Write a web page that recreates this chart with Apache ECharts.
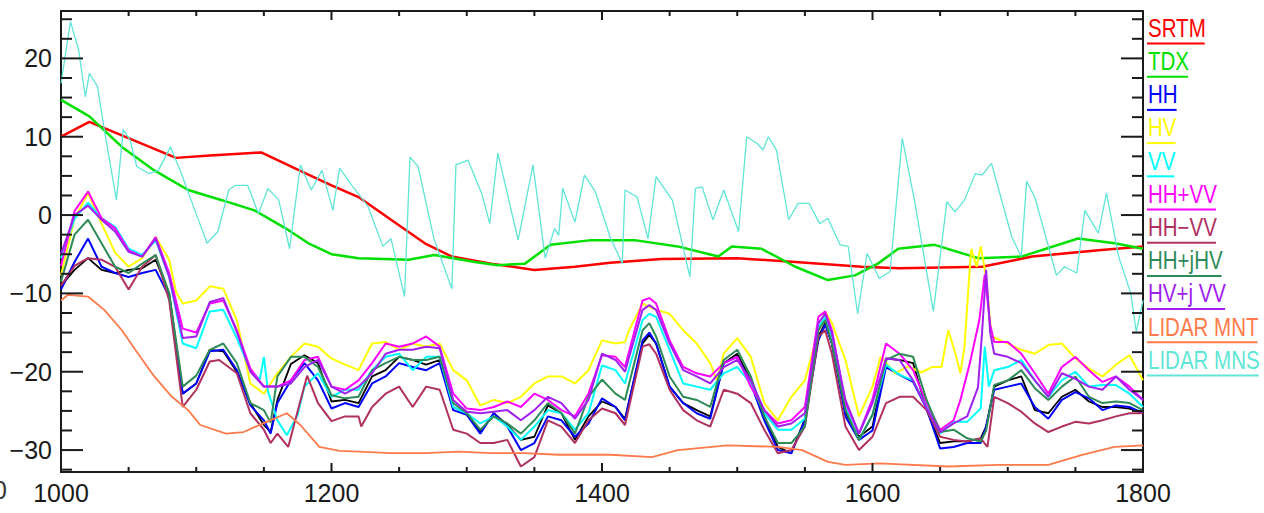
<!DOCTYPE html>
<html>
<head>
<meta charset="utf-8">
<script src="https://cdn.jsdelivr.net/npm/echarts@6/dist/echarts.min.js"></script>
<style>
html,body{margin:0;padding:0;background:#fff;}
#chart{width:1264px;height:513px;}
</style>
</head>
<body>
<div id="chart"></div>
<script>
// ---------- axis / tick values ----------
const xRange = [1000, 1800];
const xTickInterval = 200;
const xMajorTicks = [1000, 1200, 1400, 1600, 1800];
const xMinorTicks = [1050, 1100, 1150, 1250, 1300, 1350, 1450, 1500, 1550, 1650, 1700, 1750];
const yRange = [-32.8, 26.05];
const yMajorTicks = [-30, -20, -10, 0, 10, 20];
const yMinorTicks = [-32.5, -27.5, -25, -22.5, -17.5, -15, -12.5, -7.5, -5, -2.5, 2.5, 5, 7.5, 12.5, 15, 17.5, 22.5, 25];

// ---------- series names & colours ----------
const seriesNames = ['SRTM', 'TDX', 'HH', 'HV', 'VV', 'HH+VV', 'HH\u2212VV', 'HH+jHV', 'HV+j VV', 'LIDAR MNT', 'LIDAR MNS'];
const seriesColors = ['#ff0000', '#00e000', '#0000ff', '#ffff00', '#00ffff', '#ff00ff', '#b03060', '#2e8b57', '#a020f0', '#ff7a4a', '#5fe6d6'];

// ---------- data: [distance, value] ----------
const srtm = [[1000,10],[1021,11.9],[1085,7.3],[1110,7.6],[1148,8.0],[1175,5.8],[1200,3.8],[1220,2.3],[1244,-0.6],[1269,-3.6],[1289,-5.3],[1318,-6.2],[1350,-7.0],[1380,-6.6],[1406,-6.1],[1444,-5.6],[1500,-5.5],[1543,-6.0],[1592,-6.6],[1620,-6.8],[1681,-6.6],[1718,-5.3],[1767,-4.5],[1800,-4.0]];

const tdx = [[1000,14.7],[1021,12.6],[1045,8.7],[1069,5.7],[1094,3.2],[1119,1.9],[1143,0.6],[1168,-1.9],[1183,-3.6],[1200,-5.0],[1220,-5.5],[1257,-5.7],[1276,-5.1],[1306,-6.0],[1323,-6.4],[1343,-6.2],[1362,-3.8],[1392,-3.2],[1424,-3.2],[1456,-4.0],[1486,-5.3],[1496,-4.0],[1518,-4.3],[1543,-6.6],[1567,-8.3],[1587,-7.7],[1604,-6.2],[1619,-4.3],[1646,-3.8],[1678,-5.5],[1710,-5.3],[1752,-3.0],[1779,-3.6],[1800,-4.3]];

const hh = [[1000,-9.5],[1010,-6.0],[1020,-3.0],[1030,-6.6],[1040,-7.4],[1050,-7.9],[1060,-7.4],[1070,-7.0],[1080,-10.4],[1090,-22.8],[1100,-21.5],[1110,-17.4],[1120,-17.2],[1130,-19.8],[1140,-24.3],[1150,-26.2],[1155,-27.9],[1160,-24.0],[1170,-21.1],[1180,-18.9],[1190,-21.1],[1200,-24.7],[1210,-24.0],[1220,-24.5],[1230,-21.5],[1240,-20.6],[1250,-18.9],[1260,-19.4],[1270,-19.8],[1280,-18.9],[1290,-24.9],[1300,-25.5],[1310,-27.9],[1320,-25.3],[1330,-27.0],[1340,-30.0],[1350,-29.1],[1360,-25.7],[1370,-26.2],[1380,-28.3],[1390,-26.6],[1400,-23.4],[1410,-24.5],[1417,-26.2],[1430,-16.0],[1435,-15.0],[1440,-16.4],[1450,-21.9],[1460,-24.0],[1470,-25.3],[1480,-26.0],[1490,-18.9],[1500,-18.1],[1510,-21.5],[1520,-26.2],[1530,-30.0],[1540,-30.4],[1550,-26.2],[1560,-16.0],[1565,-14.0],[1570,-16.4],[1580,-25.7],[1590,-28.7],[1600,-27.5],[1610,-19.4],[1620,-20.4],[1630,-21.3],[1640,-24.7],[1650,-29.8],[1660,-29.6],[1670,-29.1],[1680,-29.1],[1684,-27.0],[1690,-22.3],[1700,-21.9],[1710,-21.5],[1720,-24.5],[1730,-26.0],[1740,-23.6],[1750,-22.6],[1760,-23.4],[1770,-24.9],[1780,-24.3],[1790,-24.5],[1800,-25.3]];

const hv = [[1000,-7.7],[1010,-0.5],[1020,2.8],[1030,-1.1],[1040,-4.8],[1050,-6.6],[1060,-5.5],[1070,-2.8],[1080,-5.7],[1085,-9.8],[1090,-11.3],[1100,-10.9],[1110,-9.1],[1120,-9.4],[1130,-13.4],[1140,-21.5],[1150,-22.8],[1160,-20.2],[1170,-18.1],[1180,-16.4],[1190,-16.8],[1200,-18.3],[1210,-19.1],[1220,-19.8],[1230,-16.4],[1240,-16.2],[1250,-17.2],[1260,-16.4],[1270,-16.8],[1280,-16.4],[1290,-19.8],[1300,-21.1],[1310,-24.3],[1320,-23.6],[1330,-24.0],[1340,-23.2],[1350,-21.5],[1360,-20.6],[1370,-20.6],[1380,-21.5],[1390,-19.8],[1400,-16.0],[1410,-16.4],[1417,-16.2],[1420,-14.7],[1430,-11.3],[1440,-12.1],[1450,-12.6],[1460,-14.7],[1470,-16.4],[1480,-18.9],[1485,-21.1],[1490,-17.7],[1500,-15.7],[1510,-18.1],[1520,-24.0],[1530,-26.2],[1540,-23.2],[1550,-21.1],[1560,-14.7],[1565,-12.3],[1570,-13.8],[1580,-18.5],[1590,-25.7],[1600,-21.9],[1606,-18.1],[1617,-20.2],[1626,-19.3],[1636,-20.1],[1644,-19.4],[1651,-19.4],[1656,-14.7],[1661,-17.5],[1665,-20.2],[1668,-16.8],[1671,-9.1],[1673,-4.3],[1677,-6.6],[1680,-4.0],[1684,-7.9],[1688,-15.5],[1700,-16.4],[1710,-17.2],[1720,-17.7],[1730,-16.6],[1740,-16.4],[1750,-18.3],[1760,-19.6],[1770,-20.6],[1780,-19.1],[1790,-17.9],[1800,-21.1]];

const vv = [[1000,-5.5],[1010,-0.5],[1020,1.6],[1030,-0.4],[1040,-1.5],[1050,-4.3],[1060,-5.1],[1070,-3.2],[1080,-7.9],[1090,-16.4],[1100,-17.0],[1110,-12.3],[1120,-12.1],[1130,-15.7],[1140,-19.8],[1147,-21.0],[1150,-18.1],[1153,-22.5],[1160,-26.2],[1167,-28.1],[1175,-25.5],[1180,-21.9],[1190,-20.2],[1200,-23.2],[1210,-22.3],[1220,-22.3],[1230,-19.8],[1240,-18.1],[1250,-17.7],[1260,-19.8],[1270,-18.1],[1280,-18.1],[1290,-24.5],[1300,-25.3],[1310,-26.6],[1320,-25.7],[1330,-27.0],[1340,-28.7],[1350,-27.0],[1360,-24.9],[1370,-25.3],[1380,-27.4],[1390,-25.3],[1400,-19.2],[1410,-19.8],[1417,-21.5],[1430,-13.4],[1435,-12.6],[1440,-13.0],[1450,-17.2],[1460,-21.5],[1470,-21.9],[1480,-22.3],[1490,-20.2],[1500,-19.4],[1510,-21.5],[1520,-25.3],[1530,-27.4],[1540,-27.4],[1550,-26.0],[1560,-14.3],[1565,-13.0],[1570,-15.5],[1580,-24.5],[1590,-28.7],[1600,-25.5],[1610,-19.1],[1620,-20.4],[1630,-21.1],[1640,-24.5],[1650,-27.9],[1660,-26.4],[1670,-26.4],[1680,-24.7],[1683,-16.8],[1686,-21.9],[1690,-19.8],[1700,-19.4],[1710,-18.5],[1720,-21.1],[1730,-23.2],[1740,-21.1],[1750,-20.0],[1760,-21.9],[1770,-21.7],[1780,-21.7],[1790,-22.8],[1800,-24.5]];

const hhPlusVv = [[1000,-6.5],[1010,0.5],[1020,3.0],[1030,-0.4],[1040,-1.7],[1050,-4.5],[1060,-5.3],[1070,-2.8],[1080,-7.4],[1090,-14.5],[1100,-15.0],[1110,-11.3],[1120,-10.9],[1130,-14.7],[1140,-19.6],[1150,-21.9],[1160,-21.9],[1170,-21.1],[1180,-18.5],[1190,-18.1],[1200,-21.9],[1210,-22.3],[1220,-21.1],[1230,-18.9],[1240,-16.4],[1250,-16.8],[1260,-16.4],[1270,-15.5],[1280,-16.8],[1290,-22.8],[1300,-24.7],[1310,-24.9],[1320,-24.5],[1330,-23.8],[1340,-24.5],[1350,-22.8],[1360,-23.6],[1370,-24.9],[1380,-25.7],[1390,-22.8],[1400,-17.9],[1410,-18.1],[1417,-19.4],[1430,-10.9],[1435,-10.6],[1440,-11.3],[1450,-16.0],[1460,-19.4],[1470,-20.2],[1480,-20.6],[1490,-18.9],[1500,-18.1],[1510,-21.9],[1520,-24.9],[1530,-26.6],[1540,-26.2],[1550,-24.5],[1560,-13.0],[1565,-12.3],[1570,-14.7],[1580,-24.0],[1590,-27.9],[1600,-23.5],[1610,-16.4],[1620,-17.7],[1630,-19.8],[1640,-24.0],[1650,-27.4],[1660,-26.2],[1665,-23.6],[1672,-18.9],[1679,-13.4],[1683,-7.6],[1687,-14.0],[1690,-16.2],[1700,-16.2],[1710,-17.7],[1720,-20.2],[1730,-22.8],[1740,-19.4],[1750,-18.1],[1760,-19.8],[1770,-21.3],[1780,-20.6],[1790,-21.9],[1800,-23.6]];

const hhMinusVv = [[1000,-9.0],[1010,-6.5],[1020,-5.5],[1030,-5.7],[1040,-6.6],[1050,-9.5],[1060,-6.6],[1070,-5.1],[1080,-10.9],[1090,-24.5],[1100,-22.3],[1110,-18.7],[1117,-18.5],[1130,-20.2],[1140,-25.3],[1150,-27.4],[1155,-29.1],[1160,-27.9],[1168,-29.6],[1175,-25.0],[1182,-20.5],[1190,-24.0],[1200,-26.3],[1210,-25.7],[1220,-25.7],[1222,-27.0],[1230,-24.5],[1240,-22.8],[1250,-21.9],[1260,-24.5],[1270,-21.9],[1280,-22.3],[1290,-27.4],[1300,-27.9],[1310,-29.1],[1320,-29.1],[1330,-28.7],[1340,-32.1],[1350,-30.9],[1360,-26.2],[1370,-27.0],[1380,-29.1],[1390,-26.2],[1400,-24.7],[1410,-25.3],[1417,-26.8],[1430,-16.8],[1435,-16.5],[1440,-17.7],[1450,-22.3],[1460,-24.9],[1470,-26.2],[1480,-27.0],[1490,-22.3],[1500,-22.8],[1510,-24.0],[1520,-27.4],[1530,-30.4],[1540,-30.0],[1550,-27.0],[1560,-15.5],[1565,-14.7],[1570,-17.7],[1580,-27.0],[1590,-30.0],[1600,-28.3],[1610,-24.0],[1620,-23.2],[1630,-23.2],[1640,-24.9],[1650,-28.3],[1660,-28.7],[1670,-28.9],[1680,-28.5],[1685,-29.6],[1690,-23.2],[1700,-24.0],[1710,-25.1],[1720,-26.6],[1730,-27.7],[1740,-27.0],[1750,-26.4],[1760,-26.6],[1770,-26.2],[1780,-25.7],[1790,-25.3],[1800,-25.3]];

const hhPlusJHv = [[1000,-8.5],[1010,-2.5],[1020,-0.6],[1030,-3.6],[1040,-6.6],[1050,-7.4],[1060,-6.2],[1070,-5.1],[1080,-10.0],[1090,-21.9],[1100,-20.5],[1110,-17.2],[1120,-16.4],[1130,-18.9],[1140,-24.0],[1150,-24.9],[1155,-26.5],[1160,-20.6],[1170,-18.1],[1180,-18.1],[1190,-19.4],[1200,-23.0],[1210,-23.4],[1220,-23.2],[1230,-19.8],[1240,-18.9],[1250,-18.1],[1260,-18.5],[1270,-18.5],[1280,-18.1],[1290,-24.0],[1300,-25.3],[1310,-27.4],[1320,-25.7],[1330,-26.6],[1340,-27.9],[1350,-26.2],[1360,-24.0],[1370,-25.3],[1380,-27.9],[1390,-23.2],[1400,-21.0],[1410,-22.8],[1417,-23.6],[1430,-14.7],[1435,-13.8],[1440,-15.5],[1450,-20.6],[1460,-23.2],[1470,-23.6],[1480,-24.5],[1490,-18.5],[1500,-17.2],[1510,-20.6],[1520,-25.7],[1530,-29.1],[1540,-29.1],[1550,-27.0],[1560,-14.7],[1565,-13.4],[1570,-16.4],[1580,-24.9],[1590,-28.7],[1600,-25.5],[1610,-18.5],[1620,-17.7],[1630,-18.1],[1640,-23.6],[1650,-27.7],[1660,-27.4],[1670,-28.5],[1680,-28.9],[1684,-27.5],[1690,-21.7],[1700,-21.1],[1710,-19.8],[1720,-22.1],[1730,-23.6],[1740,-21.9],[1750,-20.6],[1760,-23.2],[1770,-24.0],[1780,-23.8],[1790,-24.0],[1800,-24.9]];

const hvPlusJVv = [[1000,-5.0],[1010,0.0],[1020,1.2],[1030,-0.6],[1040,-2.1],[1050,-4.7],[1060,-5.3],[1070,-3.0],[1080,-7.9],[1090,-15.7],[1100,-15.5],[1110,-11.1],[1120,-10.6],[1130,-14.9],[1140,-20.0],[1150,-21.9],[1160,-21.9],[1170,-21.5],[1180,-19.4],[1190,-18.5],[1200,-21.9],[1210,-22.8],[1220,-21.9],[1230,-20.2],[1240,-17.7],[1250,-17.2],[1260,-17.2],[1270,-16.8],[1280,-17.0],[1290,-23.6],[1300,-25.1],[1310,-25.3],[1320,-25.1],[1330,-24.9],[1340,-26.2],[1350,-24.9],[1360,-23.2],[1370,-24.0],[1380,-26.0],[1390,-23.6],[1400,-17.7],[1410,-18.5],[1417,-20.0],[1430,-12.1],[1435,-11.5],[1440,-12.1],[1450,-16.4],[1460,-19.8],[1470,-20.6],[1480,-21.5],[1490,-19.4],[1500,-18.5],[1510,-21.1],[1520,-24.9],[1530,-27.0],[1540,-26.6],[1550,-25.3],[1560,-13.8],[1565,-12.6],[1570,-15.1],[1580,-23.6],[1590,-27.9],[1600,-24.0],[1610,-18.3],[1620,-18.5],[1630,-21.1],[1640,-24.7],[1650,-27.7],[1660,-26.6],[1670,-25.7],[1678,-22.0],[1681,-15.0],[1684,-7.0],[1687,-15.0],[1690,-17.7],[1700,-18.1],[1710,-18.9],[1720,-21.1],[1730,-23.2],[1740,-20.2],[1750,-20.9],[1760,-21.9],[1770,-22.3],[1780,-20.6],[1790,-22.3],[1800,-23.6]];

const lidarMnt = [[1000,-10.9],[1005,-10.2],[1020,-10.4],[1032,-12.1],[1045,-14.7],[1057,-17.7],[1069,-20.6],[1082,-23.2],[1094,-24.9],[1103,-26.8],[1122,-27.9],[1135,-27.7],[1152,-26.4],[1167,-25.3],[1177,-26.8],[1191,-29.6],[1206,-30.1],[1220,-30.2],[1244,-30.4],[1269,-30.4],[1294,-30.2],[1318,-30.4],[1343,-30.4],[1368,-30.6],[1406,-30.6],[1437,-30.9],[1456,-30.0],[1493,-29.4],[1530,-29.6],[1548,-30.0],[1567,-31.5],[1580,-31.9],[1605,-31.7],[1656,-32.1],[1693,-31.9],[1730,-31.9],[1755,-30.6],[1779,-29.6],[1800,-29.4]];

const lidarMns = [[1000,16.8],[1007,24.7],[1013,21.1],[1018,15.1],[1021,18.1],[1027,16.4],[1032,10.9],[1041,1.9],[1046,10.9],[1051,9.6],[1056,6.2],[1065,5.3],[1072,5.7],[1081,8.7],[1089,5.3],[1099,0.6],[1108,-3.6],[1116,-2.1],[1124,3.2],[1129,3.8],[1138,3.8],[1146,0.2],[1153,3.4],[1161,1.9],[1169,-4.3],[1177,6.4],[1185,3.2],[1193,5.7],[1201,0.6],[1206,6.0],[1215,3.8],[1227,1.1],[1238,-4.0],[1244,-3.0],[1254,-10.4],[1258,7.4],[1264,6.2],[1276,-3.2],[1289,-9.4],[1292,6.4],[1301,7.0],[1311,2.8],[1317,-1.1],[1323,7.9],[1338,-3.2],[1349,6.4],[1358,-5.5],[1365,-1.7],[1368,-2.6],[1371,3.4],[1380,-0.9],[1387,5.1],[1395,3.0],[1406,-2.8],[1415,-6.2],[1417,3.2],[1426,2.3],[1434,-3.0],[1440,4.9],[1452,1.9],[1465,-7.9],[1469,3.4],[1474,3.6],[1482,-0.6],[1490,3.2],[1501,-2.1],[1507,10.0],[1515,9.1],[1519,8.3],[1523,10.0],[1529,8.3],[1538,-0.6],[1545,1.5],[1553,1.5],[1561,-1.1],[1567,-0.4],[1576,-3.8],[1582,-4.0],[1589,-12.6],[1596,-4.9],[1605,-8.1],[1613,-7.2],[1622,9.8],[1631,1.9],[1645,-12.3],[1655,1.7],[1661,0.4],[1668,1.9],[1676,5.3],[1681,5.1],[1688,6.6],[1703,-2.8],[1710,-5.3],[1714,4.3],[1720,2.3],[1736,-7.7],[1742,-6.6],[1751,-7.4],[1757,0.6],[1767,-2.3],[1773,2.8],[1782,-5.3],[1791,-10.0],[1795,-14.9],[1800,-10.9]];

// unlabelled black trace (not in the legend)
const blackTrace = [[1000,-9.0],[1010,-7.0],[1020,-5.5],[1030,-7.0],[1040,-7.4],[1050,-7.0],[1060,-6.8],[1070,-5.7],[1080,-10.0],[1090,-22.8],[1100,-21.5],[1110,-17.2],[1120,-17.4],[1130,-20.0],[1140,-24.0],[1150,-26.8],[1155,-27.7],[1160,-23.6],[1170,-19.0],[1180,-17.9],[1190,-18.9],[1200,-23.8],[1210,-23.6],[1220,-24.0],[1230,-20.6],[1240,-19.8],[1250,-18.1],[1260,-18.5],[1270,-19.1],[1280,-18.5],[1290,-24.5],[1300,-25.3],[1310,-27.7],[1320,-25.3],[1330,-26.8],[1340,-28.7],[1350,-28.3],[1360,-24.3],[1370,-25.3],[1380,-28.7],[1390,-25.7],[1400,-23.8],[1410,-24.5],[1417,-26.0],[1430,-16.4],[1435,-15.3],[1440,-16.4],[1450,-21.9],[1460,-24.0],[1470,-24.9],[1480,-25.7],[1490,-18.9],[1500,-17.7],[1510,-21.1],[1520,-25.7],[1530,-29.6],[1540,-30.4],[1550,-26.0],[1560,-15.5],[1565,-13.8],[1570,-16.4],[1580,-25.3],[1590,-28.3],[1600,-27.0],[1610,-18.3],[1620,-18.5],[1630,-18.9],[1640,-24.9],[1650,-29.1],[1660,-28.9],[1670,-28.9],[1680,-28.5],[1684,-27.0],[1690,-21.9],[1700,-21.1],[1710,-20.6],[1720,-24.9],[1730,-25.3],[1740,-23.2],[1750,-22.3],[1760,-23.8],[1770,-24.5],[1780,-24.5],[1790,-24.7],[1800,-25.3]];

const seriesData = [srtm, tdx, hh, hv, vv, hhPlusVv, hhMinusVv, hhPlusJHv, hvPlusJVv, lidarMnt, lidarMns];
const seriesWidths = [2.5, 2.5, 2, 2, 2, 2, 2, 2, 2, 1.8, 1.3];

// ---------- chart ----------
const FONT = '"Liberation Sans", Arial, sans-serif';
const AXIS_COLOR = '#1a1a1a';
const chart = echarts.init(document.getElementById('chart'), null, {renderer: 'svg'});

function fmtY(v) { return v < 0 ? '\u2212' + Math.abs(v) : String(v); }
function fmtX(v) { return String(v); }

function yAxisDef(position, withLabel) {
  return {
    type: 'value', position: position, min: yRange[0], max: yRange[1], offset: 0,
    splitLine: {show: false},
    axisLine: {show: true, onZero: false, lineStyle: {color: AXIS_COLOR, width: 2}},
    axisTick: {show: false},
    axisLabel: withLabel ? {show: true, customValues: yMajorTicks, formatter: fmtY, color: '#1a1a1a', fontSize: 25, fontFamily: FONT, margin: 9} : {show: false}
  };
}
function xAxisDef(position, withLabel) {
  return {
    type: 'value', position: position, min: xRange[0], max: xRange[1], interval: xTickInterval,
    splitLine: {show: false},
    axisLine: {show: true, onZero: false, lineStyle: {color: AXIS_COLOR, width: 2}},
    axisTick: {show: false},
    axisLabel: withLabel ? {show: true, formatter: fmtX, color: '#1a1a1a', fontSize: 25, fontFamily: FONT, margin: 8} : {show: false}
  };
}

const series = [{
  name: '', type: 'line', data: blackTrace, xAxisIndex: 0, yAxisIndex: 0,
  symbol: 'none', showSymbol: false, silent: true, z: 2,
  lineStyle: {color: '#000000', width: 1.8}, itemStyle: {color: '#000000'}
}];
seriesNames.forEach(function (name, i) {
  series.push({
    name: name, type: 'line', data: seriesData[i], xAxisIndex: 0, yAxisIndex: 0,
    symbol: 'none', showSymbol: false, silent: true, z: 3 + i,
    lineStyle: {color: seriesColors[i], width: seriesWidths[i]}, itemStyle: {color: seriesColors[i]}
  });
});

// tick marks pointing into the plot (IDL style), placed via the axes' own coordinate system
const yTickData = yMajorTicks.map(function (v) { return [xRange[0], v, 22]; })
  .concat(yMinorTicks.map(function (v) { return [xRange[0], v, 11]; }));
const xTickData = xMajorTicks.map(function (v) { return [v, yRange[0], 9]; })
  .concat(xMinorTicks.map(function (v) { return [v, yRange[0], 5]; }));

function tickLine(x1, y1, x2, y2) {
  return {type: 'line', shape: {x1: x1, y1: y1, x2: x2, y2: y2}, style: {stroke: AXIS_COLOR, lineWidth: 2}};
}
series.push({
  name: 'yTicks', type: 'custom', data: yTickData, xAxisIndex: 0, yAxisIndex: 0,
  silent: true, clip: false, z: 20, encode: {x: 0, y: 1},
  renderItem: function (params, api) {
    const v = api.value(1), len = api.value(2);
    const pl = api.coord([xRange[0], v]);
    const pr = api.coord([xRange[1], v]);
    return {type: 'group', children: [tickLine(pl[0], pl[1], pl[0] + len, pl[1]), tickLine(pr[0], pr[1], pr[0] - len, pr[1])]};
  }
});
series.push({
  name: 'xTicks', type: 'custom', data: xTickData, xAxisIndex: 0, yAxisIndex: 0,
  silent: true, clip: false, z: 20, encode: {x: 0, y: 1},
  renderItem: function (params, api) {
    const v = api.value(0), len = api.value(2);
    const pb = api.coord([v, yRange[0]]);
    const pt = api.coord([v, yRange[1]]);
    return {type: 'group', children: [tickLine(pb[0], pb[1], pb[0], pb[1] - len), tickLine(pt[0], pt[1], pt[0], pt[1] + len)]};
  }
});

// legend: coloured text with an underline of the same colour
const LEG_FONT_SIZE = 25, LEG_SCALE = 0.82, LEG_X = 1148, LEG_Y0 = 43.5, LEG_STEP = 33.2;
const mctx = document.createElement('canvas').getContext('2d');
mctx.font = LEG_FONT_SIZE + 'px ' + FONT;
const graphics = [];
seriesNames.forEach(function (name, i) {
  const uy = LEG_Y0 + LEG_STEP * i;
  const w = mctx.measureText(name).width * LEG_SCALE;
  graphics.push({
    type: 'text', x: LEG_X, y: uy - 15.5, scaleX: LEG_SCALE, silent: true, z: 100,
    style: {text: name, fill: seriesColors[i], font: LEG_FONT_SIZE + 'px ' + FONT,
      textAlign: 'left', textVerticalAlign: 'middle', align: 'left', verticalAlign: 'middle'}
  });
  graphics.push({
    type: 'line', silent: true, z: 100,
    shape: {x1: LEG_X - 1, y1: uy, x2: LEG_X - 1 + w, y2: uy},
    style: {stroke: seriesColors[i], lineWidth: 2}
  });
});
// clipped label fragment at the far left edge (as in the reference)
graphics.push({
  type: 'text', x: -7, y: 490, silent: true,
  style: {text: '0', fill: '#333', font: '25px ' + FONT, textAlign: 'left', textVerticalAlign: 'middle', align: 'left', verticalAlign: 'middle'}
});

chart.setOption({
  animation: false,
  backgroundColor: '#ffffff',
  tooltip: {show: false},
  grid: {left: 61, right: 121, top: 11, bottom: 41, containLabel: false},
  xAxis: [xAxisDef('bottom', true), xAxisDef('top', false)],
  yAxis: [yAxisDef('left', true), yAxisDef('right', false)],
  series: series,
  graphic: graphics
});
</script>
</body>
</html>
